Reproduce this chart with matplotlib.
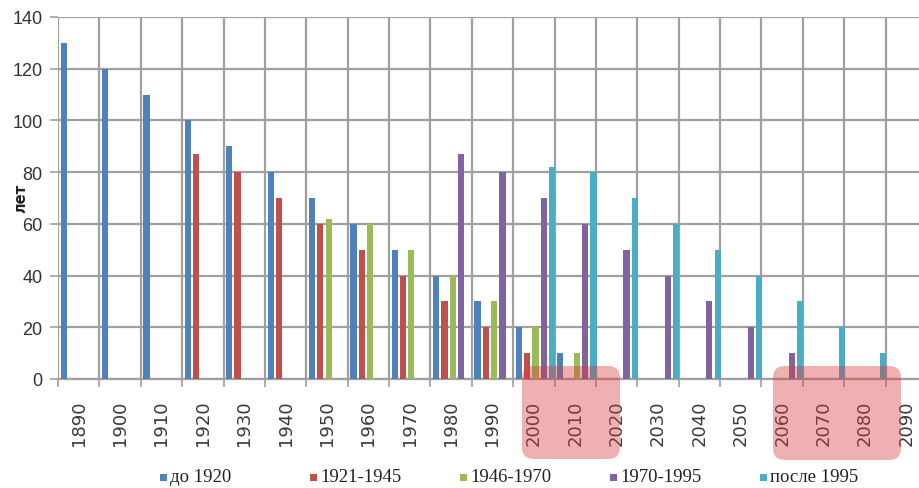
import matplotlib
matplotlib.use("Agg")
import matplotlib.pyplot as plt
import numpy as np
from matplotlib.patches import FancyBboxPatch, Rectangle

# Decades on the horizontal axis
decades = ["1890", "1900", "1910", "1920", "1930", "1940", "1950", "1960", "1970",
           "1980", "1990", "2000", "2010", "2020", "2030", "2040", "2050", "2060",
           "2070", "2080", "2090"]

# Remaining service life (years) by construction period
before_1920 = [130, 120, 110, 100, 90, 80, 70, 60, 50, 40, 30, 20, 10, 0, 0, 0, 0, 0, 0, 0, 0]
p1921_1945 = [0, 0, 0, 87, 80, 70, 60, 50, 40, 30, 20, 10, 0, 0, 0, 0, 0, 0, 0, 0, 0]
p1946_1970 = [0, 0, 0, 0, 0, 0, 62, 60, 50, 40, 30, 20, 10, 0, 0, 0, 0, 0, 0, 0, 0]
p1970_1995 = [0, 0, 0, 0, 0, 0, 0, 0, 0, 87, 80, 70, 60, 50, 40, 30, 20, 10, 0, 0, 0]
after_1995 = [0, 0, 0, 0, 0, 0, 0, 0, 0, 0, 0, 82, 80, 70, 60, 50, 40, 30, 20, 10, 0]

series_names = ["до 1920", "1921-1945", "1946-1970", "1970-1995", "после 1995"]
series_values = [before_1920, p1921_1945, p1946_1970, p1970_1995, after_1995]
series_colors = ["#4f81bd", "#c0504d", "#9bbb59", "#8064a2", "#4bacc6"]

W, H = 920, 489
fig = plt.figure(figsize=(W / 100, H / 100), dpi=100)
fig.patch.set_facecolor("white")

# plot area in pixel terms: left 58, right 927 (slightly past the edge), y 18..380
ax = fig.add_axes([58 / W, (H - 380) / H, (927 - 58) / W, (380 - 18) / H])

x = np.arange(len(decades))
offsets = [-0.4, -0.2, 0.0, 0.2, 0.4]
bar_w = 0.15
for vals, col, off in zip(series_values, series_colors, offsets):
    ax.bar(x + off + 0.04, vals, width=bar_w, color=col, zorder=3, linewidth=0)

ax.set_xlim(-0.5, len(decades) - 0.5)
ax.set_ylim(0, 140)

grid_col = "#a0a0a0"
ax.set_yticks(np.arange(0, 141, 20))
ax.yaxis.grid(True, color=grid_col, linewidth=1.6, zorder=1)
ax.set_xticks(x)
ax.set_xticklabels(decades, rotation=90, fontsize=13, color="#3a3a3a",
                   family="DejaVu Sans")
ax.set_xticks(np.arange(-0.5, len(decades), 1.0), minor=True)
ax.xaxis.grid(True, which="minor", color=grid_col, linewidth=1.6, zorder=1)
ax.tick_params(axis="x", which="major", length=0, pad=15)
ax.tick_params(axis="x", which="minor", length=6, color=grid_col, width=1.2)
ax.tick_params(axis="y", length=6, color=grid_col, width=1.2, pad=5,
               labelsize=13, labelcolor="#333333")
for lab in ax.get_yticklabels():
    lab.set_family("Liberation Sans")

for side in ("top", "right", "left"):
    ax.spines[side].set_visible(False)
ax.spines["bottom"].set_color(grid_col)
ax.spines["bottom"].set_linewidth(1.6)
ax.set_axisbelow(True)

# axis title
fig.text(21 / W, 1 - 198 / H, "лет", rotation=90, fontsize=10.5, fontweight="bold",
         ha="center", va="center", color="#222222", family="DejaVu Sans")

# highlighted periods (figure coordinates in inches)
for x0, x1, y_top, y_bot in [(522, 620, 367, 460), (773, 901, 367, 461)]:
    box = FancyBboxPatch((x0 / 100, (H - y_bot) / 100), (x1 - x0) / 100, (y_bot - y_top) / 100,
                         boxstyle="round,pad=0,rounding_size=0.12",
                         transform=fig.dpi_scale_trans, facecolor="#d93a3c", alpha=0.4,
                         edgecolor="none", zorder=10)
    fig.patches.append(box)

# legend row
sq = 7
y_leg = 478
for i, (name, col) in enumerate(zip(series_names, series_colors)):
    sx = 160 + 150 * i
    fig.patches.append(Rectangle((sx / 100, (H - y_leg - sq / 2) / 100), sq / 100, sq / 100,
                                 transform=fig.dpi_scale_trans, facecolor=col,
                                 edgecolor="none", zorder=10))
    fig.text((sx + sq + 3) / W, 1 - y_leg / H, name, fontsize=13.5, ha="left", va="center",
             color="#222222", family="Liberation Serif")

fig.savefig("out.png", dpi=100, facecolor="white")
